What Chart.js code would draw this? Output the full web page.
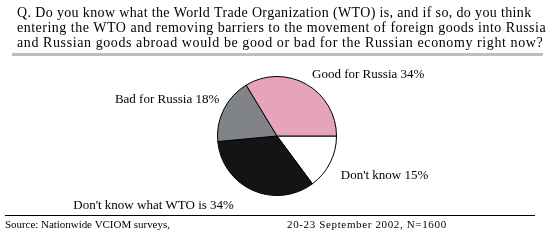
<!DOCTYPE html>
<html>
<head>
<meta charset="utf-8">
<script src="https://cdn.jsdelivr.net/npm/chart.js@4.4.1/dist/chart.umd.min.js"></script>
<style>
    html, body { margin: 0; padding: 0; background: #fff; }
    #wrap { position: relative; width: 552px; height: 240px; }
</style>
</head>
<body>
<div id="wrap"><canvas id="wtoChart"></canvas></div>
<script>
// answers, listed clockwise starting from 3 o'clock
const answers = ["Don't know", "Don't know what WTO is", "Bad for Russia", "Good for Russia"];
const shares = [15, 34, 18, 34];
const sliceColors = ['#ffffff', '#141416', '#808488', '#e6a4bc'];

const questionLines = [
    'Q. Do you know what the World Trade Organization (WTO) is, and if so, do you think',
    'entering the WTO and removing barriers to the movement of foreign goods into Russia',
    'and Russian goods abroad would be good or bad for the Russian economy right now?'
];
const sourceText = 'Source: Nationwide VCIOM surveys,';
const surveyText = '20-23 September 2002, N=1600';

// where each question line should end (the original font runs wide)
const questionLineEnds = [531, 546, 543];
// small nudges for the slice labels (x, y), same order as answers
const labelNudge = [[0, 7], [-14, 4], [6, -4], [0, 1]];

const serif = '"Liberation Serif", "Times New Roman", serif';

// spread letters so text spans from x to xEnd
function fillSpread(ctx, text, x, y, xEnd) {
    ctx.letterSpacing = '0px';
    const w = ctx.measureText(text).width;
    const extra = (xEnd - x - w) / Math.max(text.length - 1, 1);
    ctx.letterSpacing = extra.toFixed(2) + 'px';
    ctx.fillText(text, x, y);
    ctx.letterSpacing = '0px';
}

// draws question header, slice labels and footer
const textPlugin = {
    id: 'textPlugin',
    afterDraw(chart) {
        const ctx = chart.ctx;
        ctx.save();
        ctx.fillStyle = '#000';
        ctx.textBaseline = 'alphabetic';
        ctx.textAlign = 'left';

        ctx.font = '14px ' + serif;
        questionLines.forEach((line, i) => {
            fillSpread(ctx, line, 17, 17 + i * 15, questionLineEnds[i]);
        });
        ctx.fillStyle = '#bebebe';
        ctx.fillRect(12, 53, 531, 3);

        // slice labels
        ctx.fillStyle = '#000';
        ctx.font = '13px ' + serif;
        ctx.textBaseline = 'middle';
        const arcs = chart.getDatasetMeta(0).data;
        arcs.forEach((arc, i) => {
            const mid = (arc.startAngle + arc.endAngle) / 2;
            const r = arc.outerRadius * 1.2;
            const x = arc.x + Math.cos(mid) * r + labelNudge[i][0];
            const y = arc.y + Math.sin(mid) * r + labelNudge[i][1];
            ctx.textAlign = Math.cos(mid) >= 0 ? 'left' : 'right';
            ctx.fillText(answers[i] + ' ' + shares[i] + '%', x, y);
        });

        // footer
        ctx.fillStyle = '#000';
        ctx.fillRect(5, 215, 530, 1);
        ctx.font = '11px ' + serif;
        ctx.textAlign = 'left';
        ctx.textBaseline = 'alphabetic';
        fillSpread(ctx, sourceText, 5, 228, 170);
        fillSpread(ctx, surveyText, 287, 228, 446);
        ctx.restore();
    }
};

new Chart(document.getElementById('wtoChart'), {
    type: 'pie',
    data: {
        labels: answers,
        datasets: [{
            data: shares,
            backgroundColor: sliceColors,
            borderColor: '#000',
            borderWidth: 1
        }]
    },
    options: {
        responsive: true,
        maintainAspectRatio: false,
        animation: false,
        rotation: 90,
        layout: { padding: { left: 217, right: 215, top: 76, bottom: 44 } },
        plugins: {
            legend: { display: false },
            tooltip: { enabled: false }
        }
    },
    plugins: [textPlugin]
});
</script>
</body>
</html>
